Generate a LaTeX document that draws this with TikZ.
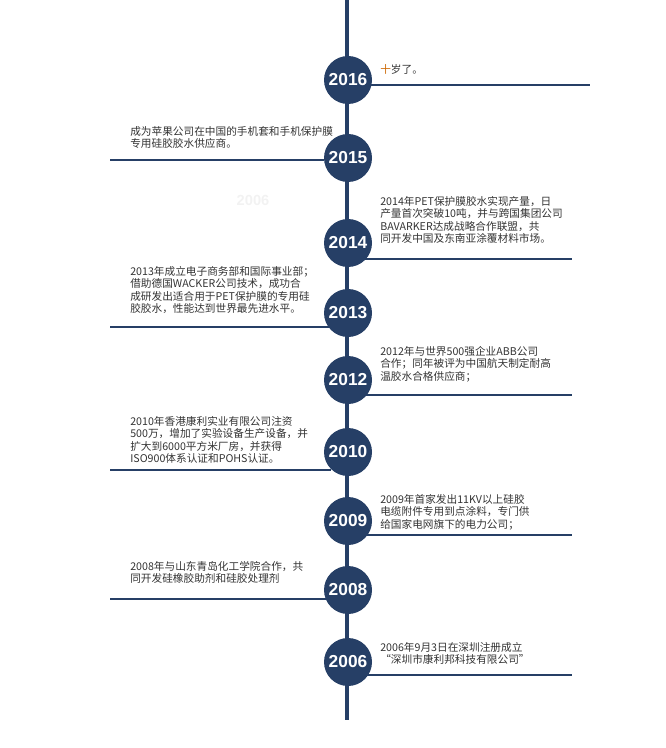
\documentclass[tikz,border=0pt]{standalone}
\usepackage{fontspec}
\setmainfont{Noto Sans CJK SC}
\newfontfamily\yrfont{Liberation Sans}
\begin{document}
\begin{tikzpicture}[x=0.75pt,y=-0.75pt]
\definecolor{navy}{HTML}{263F66}
\tikzset{yr/.style={circle,fill=navy,minimum size=36pt,inner sep=0pt,text=white,font=\yrfont\bfseries\fontsize{13}{13}\selectfont},
 txt/.style={anchor=north west,align=left,inner sep=0pt,text=black!80,font=\fontsize{8}{9.3}\selectfont},
 hl/.style={draw=navy,line width=0.8pt}}
\useasboundingbox (0,0) rectangle (665,748);
\draw[navy,line width=3.5pt] (347,0) -- (347,720);
\foreach \n/\y in {2016/80,2015/158,2014/243,2013/313,2012/380,2010/452,2009/521,2008/590,2006/662}
  \node[yr] (y\n) at (348,\y) {\n};
\coordinate (r2016) at (590,85); \draw[hl] (y2016.south east|-r2016) -- (r2016);
\coordinate (l2015) at (110,160); \draw[hl] (l2015) -- (y2015.west|-l2015);
\coordinate (r2014) at (572,259); \draw[hl] (y2014.south east|-r2014) -- (r2014);
\coordinate (l2013) at (110,327); \draw[hl] (l2013) -- (y2013.south west|-l2013);
\coordinate (r2012) at (572,395); \draw[hl] (y2012.south east|-r2012) -- (r2012);
\coordinate (l2010) at (110,470); \draw[hl] (l2010) -- (y2010.south west|-l2010);
\coordinate (r2009) at (572,535); \draw[hl] (y2009.south east|-r2009) -- (r2009);
\coordinate (l2008) at (110,599); \draw[hl] (l2008) -- (y2008.south west|-l2008);
\coordinate (r2006) at (572,675); \draw[hl] (y2006.south east|-r2006) -- (r2006);
\node[txt] (t2016) at (380,64) {\textcolor{orange!80!black}{十}岁了。};
\node[txt] (t2015) at (130,126) {成为苹果公司在中国的手机套和手机保护膜\\专用硅胶胶水供应商。};
\node[txt] (t2014) at (380,196) {2014年PET保护膜胶水实现产量，日\\产量首次突破10吨，并与跨国集团公司\\BAVARKER达成战略合作联盟，共\\同开发中国及东南亚涂覆材料市场。};
\node[txt] (t2013) at (130,266) {2013年成立电子商务部和国际事业部；\\借助德国WACKER公司技术，成功合\\成研发出适合用于PET保护膜的专用硅\\胶胶水，性能达到世界最先进水平。};
\node[txt] (t2012) at (380,346) {2012年与世界500强企业ABB公司\\合作；同年被评为中国航天制定耐高\\温胶水合格供应商；};
\node[txt] (t2010) at (130,416) {2010年香港康利实业有限公司注资\\500万，增加了实验设备生产设备，并\\扩大到6000平方米厂房，并获得\\ISO900体系认证和POHS认证。};
\node[txt] (t2009) at (380,494) {2009年首家发出11KV以上硅胶\\电缆附件专用到点涂料，专门供\\给国家电网旗下的电力公司；};
\node[txt] (t2008) at (130,561) {2008年与山东青岛化工学院合作，共\\同开发硅橡胶助剂和硅胶处理剂};
\node[txt] (t2006) at (380,642) {2006年9月3日在深圳注册成立\\“深圳市康利邦科技有限公司”};
\node[font=\yrfont\bfseries\fontsize{11}{11}\selectfont,text=black!5] (ghost) at (253,200) {2006};
\end{tikzpicture}
\end{document}
